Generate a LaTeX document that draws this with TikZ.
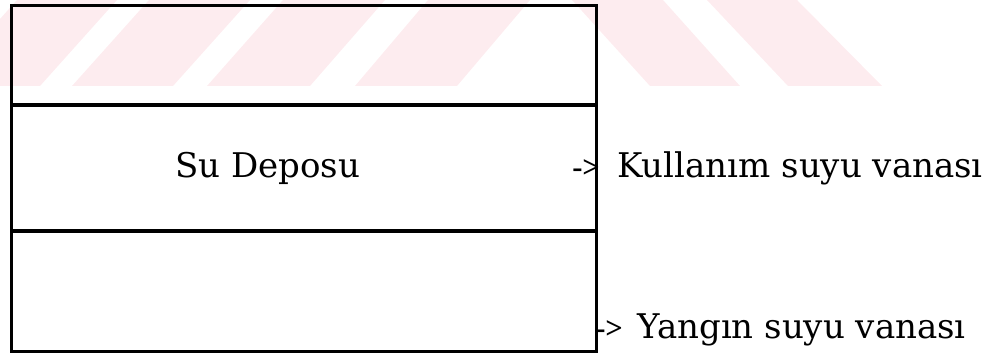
\documentclass[tikz,border=0pt]{standalone}
\usepackage{fontspec}
\setmainfont{DejaVu Serif}
\newfontfamily\arrowfont{Liberation Serif}
\definecolor{wmpink}{RGB}{253,236,239}
\tikzset{
  tankline/.style={line width=2.4pt},
  wmstripe/.style={fill=wmpink, draw=none},
  lbl/.style={anchor=base west, inner sep=0pt, font=\fontsize{25.5}{30}\selectfont},
  arrowlbl/.style={anchor=base west, inner sep=0pt, font=\arrowfont\bfseries\fontsize{23}{27}\selectfont},
}
\begin{document}
\begin{tikzpicture}[x=0.75pt,y=-0.75pt]
\useasboundingbox (0,0) rectangle (993,356);
% watermark stripes
\begin{scope}
\clip (0,0) rectangle (993,86);
\path[wmstripe] (-60,86) -- (40,86) -- (117,0) -- (17,0) -- cycle;
\path[wmstripe] (72,86) -- (173,86) -- (250,0) -- (149,0) -- cycle;
\path[wmstripe] (207,86) -- (310,86) -- (385,0) -- (283,0) -- cycle;
\path[wmstripe] (355,86) -- (457,86) -- (530,0) -- (428,0) -- cycle;
\path[wmstripe] (572,0) -- (663,0) -- (740,86) -- (650,86) -- cycle;
\path[wmstripe] (707,0) -- (797,0) -- (882,86) -- (788,86) -- cycle;
\end{scope}
% tank
\node[tankline, draw, rectangle, minimum width=585*0.75pt, minimum height=346*0.75pt, inner sep=0pt, anchor=north west] (tank) at (10,4) {};
\coordinate (d1l) at (10,105);
\coordinate (d1r) at (595,105);
\coordinate (d2l) at (10,231);
\coordinate (d2r) at (595,231);
\draw[tankline] (d1l) -- (d1r);
\draw[tankline] (d2l) -- (d2r);
\node[lbl] (su) at (175,178) {Su Deposu};
\node[arrowlbl] (a1) at (572,178) {->};
\node[lbl] (k) at (617,178) {Kullanım suyu vanası};
\node[arrowlbl] (a2) at (595,338) {->};
\node[lbl] (y) at (637,338) {Yangın suyu vanası};
\end{tikzpicture}
\end{document}
